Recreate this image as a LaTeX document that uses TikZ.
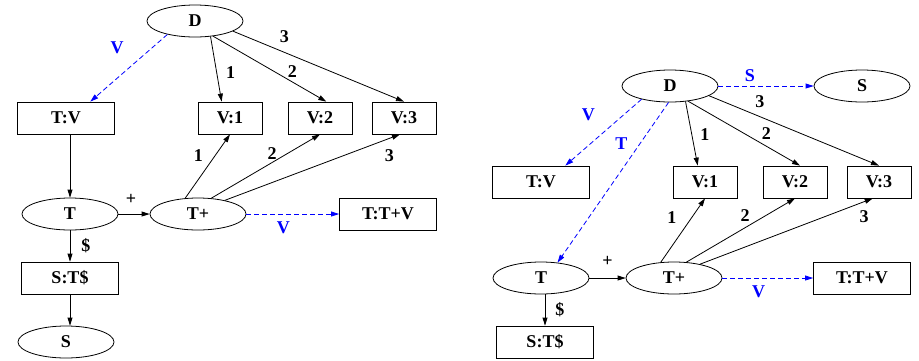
\documentclass[tikz,border=0pt]{standalone}
\usepackage{fontspec}
\setmainfont{Liberation Serif}
\usetikzlibrary{arrows.meta,shapes.geometric,positioning}

\begin{document}
\begin{tikzpicture}[x=1pt,y=-1pt,
            font=\fontsize{18}{20}\selectfont\bfseries,
            state/.style={draw,ellipse,line width=0.8pt,minimum width=96pt,minimum height=32pt,inner sep=0pt},
            slot/.style={draw,rectangle,line width=0.8pt,minimum width=64pt,minimum height=32pt,inner sep=0pt},
            wide/.style={slot,minimum width=97pt},
            edge/.style={line width=0.8pt,-{Triangle[length=8pt,width=5pt]}},
            jump/.style={edge,blue,dash pattern=on 5pt off 3pt},
            every node/.append style={inner sep=0pt}]
            \useasboundingbox (0,0) rectangle (919,360);

            % left automaton
            \node[state] (D) at (195,21) {D};
            \node[wide] (TV) at (66,118) {T:V};
            \node[slot] (V1) at (230,118) {V:1};
            \node[slot] (V2) at (320,118) {V:2};
            \node[slot] (V3) at (404,118) {V:3};
            \node[state] (T) at (70,214) {T};
            \node[state] (Tp) at (198,214) {T+};
            \node[wide] (TTV) at (388,214) {T:T+V};
            \node[wide] (STS) at (70,278) {S:T\$};
            \node[state] (S) at (66,342) {S};

            \draw[jump] (D.206) -- (TV.34) node[pos=0.2,left=28pt] {V};
            \draw[edge] (D.-45) -- (V1.117) node[pos=0.55,right=9pt] {1};
            \draw[edge] (D.-40) -- (V2.69) node[pos=0.7,above=4pt] {2};
            \draw[edge] (D.-15) -- (V3.north) node[pos=0.3,above=9pt] {3};
            \draw[edge] (T.north |- TV.south) -- (T.north);
            \draw[edge] (T.east) -- (Tp.west) node[midway,above=9pt,xshift=-3pt] {+};
            \draw[edge] (Tp.129) -- (V1.south) node[pos=0.67,left=12pt] {1};
            \draw[edge] (Tp.50) -- (V2.south) node[pos=0.56,above=3pt] {2};
            \draw[edge] (Tp.27) -- (V3.256) node[pos=0.94,below=11pt] {3};
            \draw[jump] (Tp.east) -- (TTV.west) node[pos=0.4,below=7pt] {V};
            \draw[edge] (T.south) -- (STS.north) node[midway,right=11pt] {\$};
            \draw[edge] (STS.south) -- (STS.south |- S.north);

            % right automaton
            \node[state] (Dr) at (670,86) {D};
            \node[state] (Sr) at (862,86) {S};
            \node[wide] (TVr) at (541,182) {T:V};
            \node[slot] (V1r) at (705,182) {V:1};
            \node[slot] (V2r) at (795,182) {V:2};
            \node[slot] (V3r) at (879,182) {V:3};
            \node[state] (Tr) at (541,278) {T};
            \node[state] (Tpr) at (674,278) {T+};
            \node[wide] (TTVr) at (862,278) {T:T+V};
            \node[wide] (STSr) at (545,342) {S:T\$};

            \draw[jump] (Dr.east) -- (Sr.west) node[pos=0.33,above=4pt] {S};
            \draw[jump] (Dr.205) -- (TVr.34) node[pos=0.24,left=28pt] {V};
            \draw[jump] (Dr.265) -- (Tr.43) node[pos=0.26,left=12pt] {T};
            \draw[edge] (Dr.-45) -- (V1r.114) node[pos=0.52,right=8pt] {1};
            \draw[edge] (Dr.-40) -- (V2r.73) node[pos=0.7,above=6pt] {2};
            \draw[edge] (Dr.-14) -- (V3r.north) node[pos=0.3,above=9pt] {3};
            \draw[edge] (Tr.east) -- (Tpr.west) node[midway,above=11pt] {+};
            \draw[edge] (Tpr.130) -- (V1r.south) node[pos=0.7,left=15pt] {1};
            \draw[edge] (Tpr.52) -- (V2r.south) node[pos=0.54,above=6pt] {2};
            \draw[edge] (Tpr.28) -- (V3r.249) node[pos=0.95,below=8pt] {3};
            \draw[jump] (Tpr.east) -- (TTVr.west) node[pos=0.4,below=7pt] {V};
            \draw[edge] (STSr.north |- Tr.south) -- (STSr.north) node[midway,right=10pt] {\$};
        \end{tikzpicture}
\end{document}
